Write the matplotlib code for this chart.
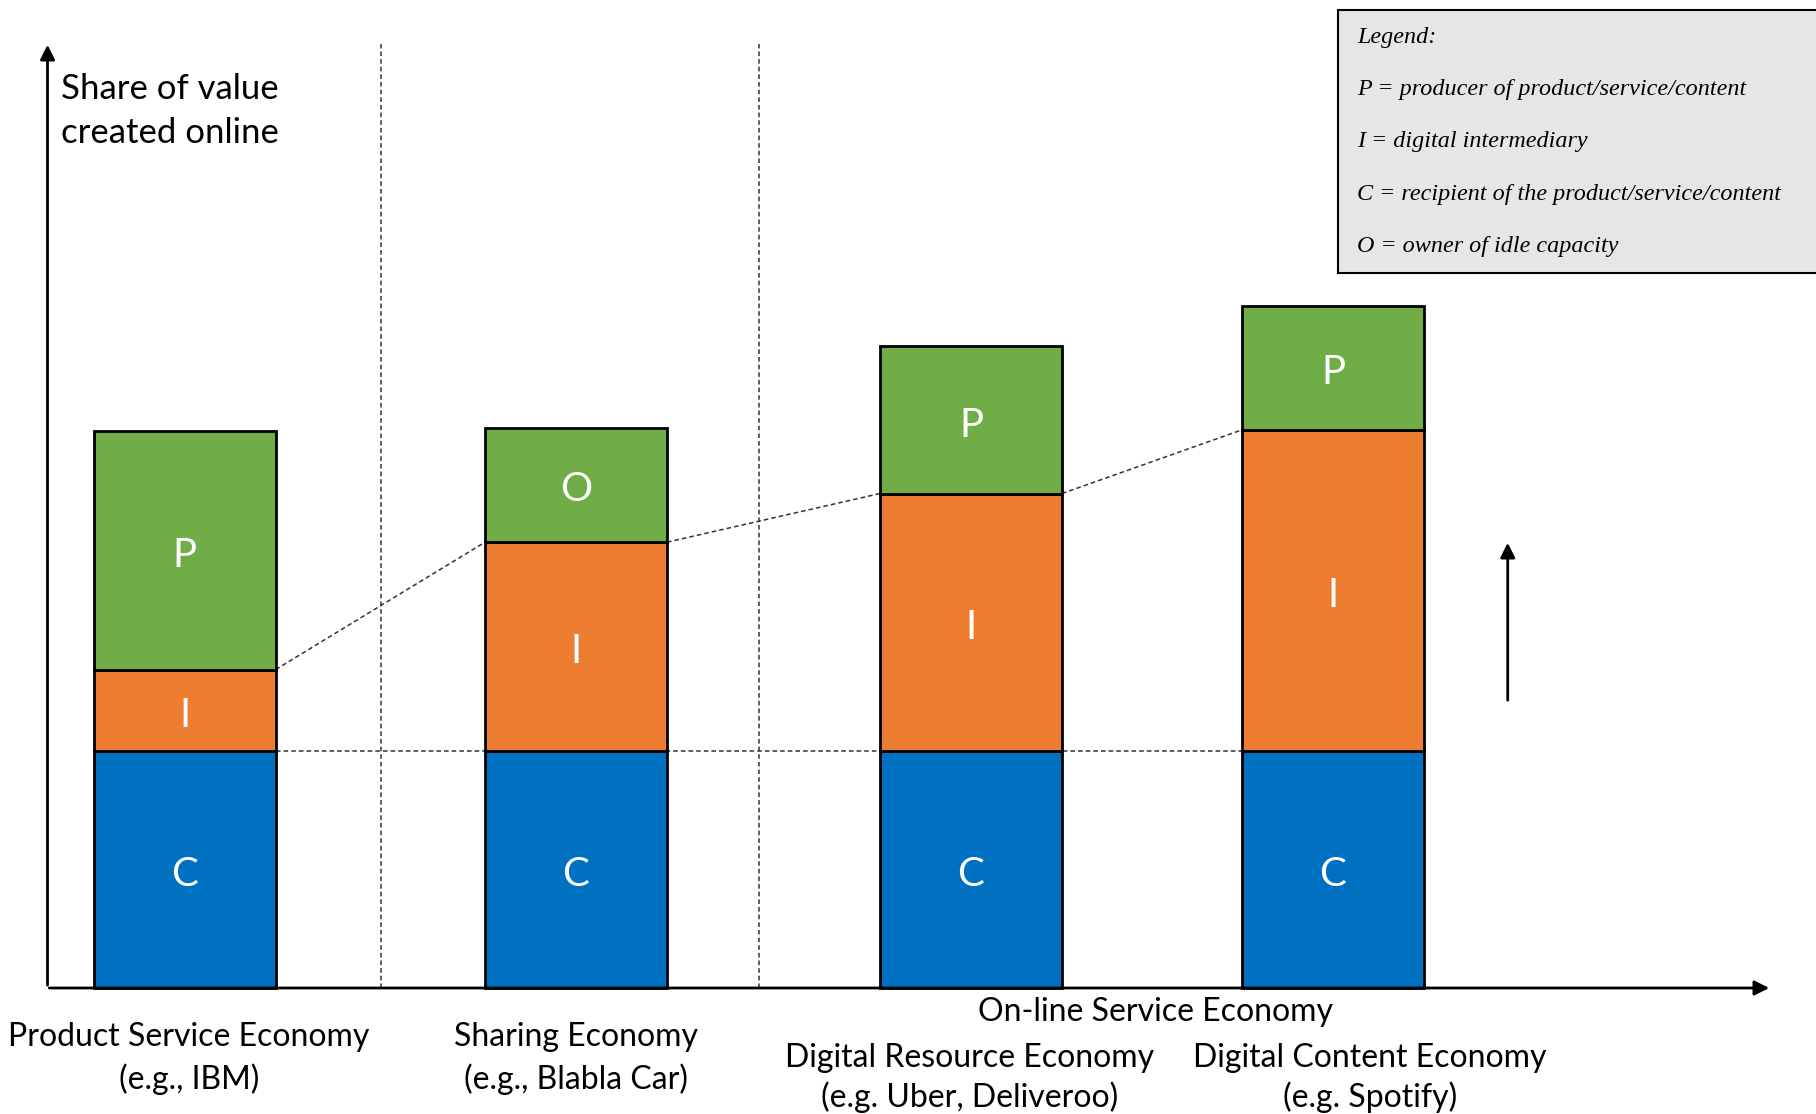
import matplotlib.pyplot as plt
from matplotlib.patches import Rectangle

# Stacked value shares per economy type (bottom -> top)
economies = ['Product Service Economy\n(e.g., IBM)',
             'Sharing Economy\n(e.g., Blabla Car)',
             'Digital Resource Economy\n(e.g. Uber, Deliveroo)',
             'Digital Content Economy\n(e.g. Spotify)']
consumer = [2.05, 2.05, 2.05, 2.05]          # C
intermediary = [0.70, 1.80, 2.22, 2.77]      # I
top_share = [2.06, 0.99, 1.27, 1.07]         # P or O
top_letter = ['P', 'O', 'P', 'P']

C_BLUE = '#0070C0'
I_ORANGE = '#ED7D31'
P_GREEN = '#70AD47'

W, H = 1816, 1114
BASE = 988          # pixel row of the x axis
UNIT = 115.8        # pixels per value unit

fig = plt.figure(figsize=(W / 100, H / 100), dpi=100)
ax = fig.add_axes([0, 0, 1, 1])
ax.set_xlim(0, W)
ax.set_ylim(-(H - BASE) / UNIT, BASE / UNIT)
ax.axis('off')


def py(pix):
    # pixel row -> data y
    return (BASE - pix) / UNIT


sans = 'Lato'
xpos = [184.7, 576, 971, 1333]
bw = 182

# bars
ax.bar(xpos, consumer, width=bw, color=C_BLUE, edgecolor='black', linewidth=2, zorder=3)
ax.bar(xpos, intermediary, width=bw, bottom=consumer, color=I_ORANGE,
       edgecolor='black', linewidth=2, zorder=3)
mid = [c + i for c, i in zip(consumer, intermediary)]
ax.bar(xpos, top_share, width=bw, bottom=mid, color=P_GREEN,
       edgecolor='black', linewidth=2, zorder=3)

nudge = 5 / UNIT   # Lato sits a little high with va='center'
for x, c, i, t, lab in zip(xpos, consumer, intermediary, top_share, top_letter):
    kw = dict(ha='center', va='center', color='white', fontsize=29, family=sans, zorder=4)
    ax.text(x, c / 2 - nudge, 'C', **kw)
    ax.text(x, c + i / 2 - nudge, 'I', **kw)
    ax.text(x, c + i + t / 2 - nudge, lab, **kw)

# dashed guides: top of C level and top of I between bars
dash = dict(color='#333333', linestyle=(0, (3, 2)), linewidth=1.1, zorder=2)
ax.plot([xpos[0] + bw / 2, xpos[-1] - bw / 2], [consumer[0], consumer[0]], **dash)
for k in range(len(xpos) - 1):
    ax.plot([xpos[k] + bw / 2, xpos[k + 1] - bw / 2], [mid[k], mid[k + 1]], **dash)

# vertical separators
for sx in [381, 758.5]:
    ax.plot([sx, sx], [0, py(44)], **dash)

# axes with arrows
ax_x0 = 47.5
ax.annotate('', xy=(1772, 0), xytext=(ax_x0 - 1, 0),
            arrowprops=dict(arrowstyle='-|>', color='black', lw=2, mutation_scale=22))
ax.annotate('', xy=(ax_x0, py(42)), xytext=(ax_x0, 0),
            arrowprops=dict(arrowstyle='-|>', color='black', lw=2, mutation_scale=22))
ax.annotate('', xy=(1507.7, py(540)), xytext=(1507.7, py(703)),
            arrowprops=dict(arrowstyle='-|>', color='black', lw=2, mutation_scale=22))

ax.text(61, py(89), 'Share of value', ha='left', va='center', fontsize=25, family=sans)
ax.text(61, py(133), 'created online', ha='left', va='center', fontsize=25, family=sans)

# category labels under the axis
label_x = [189, 575.5, 970, 1370]
label_rows = [(1037, 1079), (1037, 1079), (1058, 1097), (1058, 1097)]
for x, (y1, y2), lab in zip(label_x, label_rows, economies):
    line1, line2 = lab.split('\n')
    ax.text(x, py(y1), line1, ha='center', va='center', fontsize=23, family=sans)
    ax.text(x, py(y2), line2, ha='center', va='center', fontsize=23, family=sans)
ax.text(1156, py(1012), 'On-line Service Economy', ha='center', va='center',
        fontsize=23, family=sans)

# legend box
ax.add_patch(Rectangle((1337.5, py(273)), 500, py(10) - py(273),
                       facecolor='#E7E6E6', edgecolor='black', linewidth=1.5, zorder=5))
legend_lines = ['Legend:',
                'P = producer of product/service/content',
                'I = digital intermediary',
                'C = recipient of the product/service/content',
                'O = owner of idle capacity']
for k, line in enumerate(legend_lines):
    ax.text(1357, py([37, 89, 141, 194, 246][k]), line, ha='left', va='center',
            fontsize=17.4, family='Liberation Serif', style='italic', zorder=6)

fig.savefig('out.png', dpi=100)
